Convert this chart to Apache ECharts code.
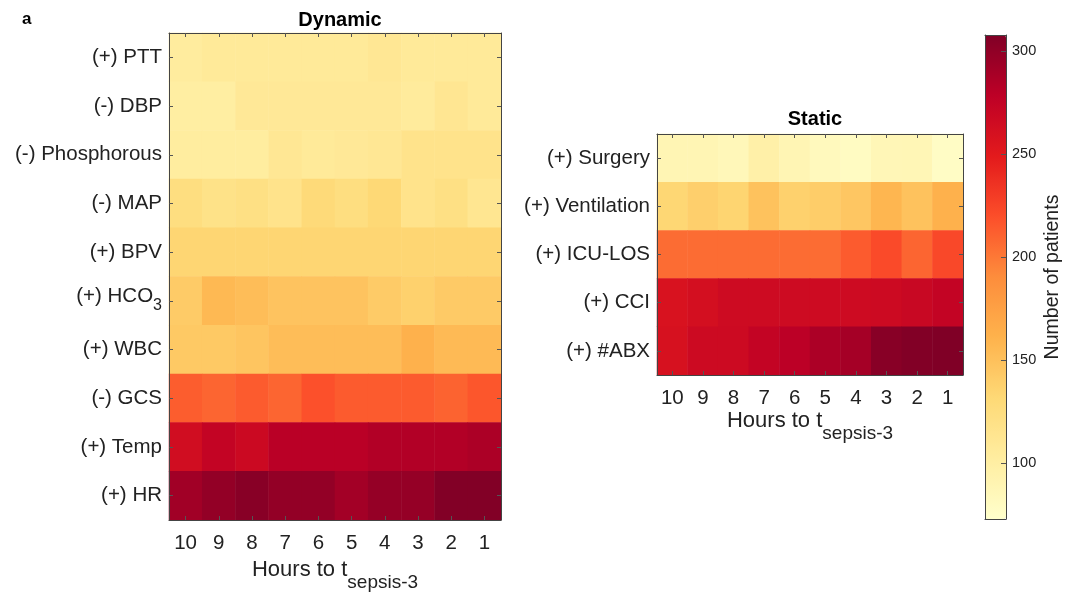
<!DOCTYPE html>
<html>
<head>
<meta charset="utf-8">
<script src="https://cdn.jsdelivr.net/npm/echarts@6/dist/echarts.min.js"></script>
<style>html,body{margin:0;padding:0;background:#fff;}#c{width:1066px;height:595px;}</style>
</head>
<body>
<div id="c"></div>
<script>
const hours = ['10','9','8','7','6','5','4','3','2','1'];
const dynamicFeatures = ['(+) PTT','(-) DBP','(-) Phosphorous','(-) MAP','(+) BPV','(+) HCO3','(+) WBC','(-) GCS','(+) Temp','(+) HR'];
const staticFeatures = ['(+) Surgery','(+) Ventilation','(+) ICU-LOS','(+) CCI','(+) #ABX'];
const colorbarTicks = [100,150,200,250,300];
const colorMin = 73, colorMax = 308;

// dynamic rows (values per hour 10..1)
const PTT   = [104,107,107,107,107,107,111,107,107,107];
const DBP   = [101,101,109,109,109,109,109,105,112,107];
const Phos  = [103,103,103,111,107,109,111,117,117,117];
const MAP   = [125,119,122,117,130,125,132,117,122,113];
const BPV   = [134,134,134,134,134,134,134,134,134,134];
const HCO3  = [142,156,153,148,148,148,142,138,143,143];
const WBC   = [144,144,147,153,153,153,153,162,155,155];
const GCS   = [213,209,214,209,219,214,214,214,210,216];
const Temp  = [264,274,268,280,280,280,284,284,284,287];
const HR    = [292,299,304,299,299,291,298,298,307,307];
// static rows
const Surgery     = [89,89,86,97,89,83,80,87,88,78];
const Ventilation = [133,139,135,149,138,141,146,158,149,162];
const ICULOS      = [206,206,206,206,206,206,214,222,209,223];
const CCI         = [258,262,266,266,266,266,266,267,270,274];
const ABX         = [259,267,267,274,279,287,290,304,307,308];

const dynamicRows = [PTT,DBP,Phos,MAP,BPV,HCO3,WBC,GCS,Temp,HR];
const staticRows = [Surgery,Ventilation,ICULOS,CCI,ABX];

function toCells(rows){
  const out=[];
  rows.forEach((r,yi)=>r.forEach((v,xi)=>out.push([xi,yi,v])));
  return out;
}

const FONT = 'Liberation Sans, Arial, Helvetica, sans-serif';
const TXT = '#222';
const tickStyle = {show:true, inside:true, length:4, alignWithLabel:true, lineStyle:{color:'#555', width:1}};
const lineStyle = {show:true, onZero:false, lineStyle:{color:'#444', width:1}};

function subFmt(v){
  if (v === '(+) HCO3') return '{m|(+) HCO}{s|3}';
  return v;
}
const richY = {
  m:{fontSize:20.5, fontFamily:FONT, color:TXT, padding:[0,0,9,0]},
  s:{fontSize:16, fontFamily:FONT, color:TXT, padding:[9,0,0,0]}
};
const richName = {
  a:{fontSize:22, fontFamily:FONT, color:TXT, padding:[0,0,13,0]},
  b:{fontSize:19, fontFamily:FONT, color:TXT, padding:[13,0,0,0]}
};

function heatAxes(gi, cats, nameGap){
  const x = [
    {type:'category', gridIndex:gi, data:hours, position:'bottom', z:10,
     axisLine:lineStyle, axisTick:tickStyle,
     axisLabel:{fontSize:20.5, fontFamily:FONT, color:TXT, margin:13},
     name:'{a|Hours to t}{b|sepsis-3}', nameLocation:'middle', nameGap:nameGap,
     nameTextStyle:{rich:richName}},
    {type:'category', gridIndex:gi, data:hours, position:'top', z:10,
     axisLine:lineStyle, axisTick:tickStyle, axisLabel:{show:false}}
  ];
  const y = [
    {type:'category', gridIndex:gi, data:cats, inverse:true, position:'left', z:10,
     axisLine:lineStyle, axisTick:tickStyle,
     axisLabel:{fontSize:20.5, fontFamily:FONT, color:TXT, margin:7, formatter:subFmt, rich:richY}},
    {type:'category', gridIndex:gi, data:cats, inverse:true, position:'right', z:10,
     axisLine:lineStyle, axisTick:tickStyle, axisLabel:{show:false}}
  ];
  return {x,y};
}

const a0 = heatAxes(0, dynamicFeatures, 34);
const a1 = heatAxes(1, staticFeatures, 34);

const chart = echarts.init(document.getElementById('c'), null, {renderer:'canvas'});
chart.setOption({
  backgroundColor:'#fff',
  animation:false,
  textStyle:{fontFamily:FONT},
  title:[
    {text:'a', left:17, top:6, textStyle:{fontSize:17, fontWeight:'bold', color:'#000', fontFamily:FONT}},
    {text:'Dynamic', left:335, top:5, textAlign:'center', textStyle:{fontSize:20, fontWeight:'bold', color:'#000', fontFamily:FONT}},
    {text:'Static', left:810, top:104, textAlign:'center', textStyle:{fontSize:20, fontWeight:'bold', color:'#000', fontFamily:FONT}}
  ],
  grid:[
    {left:169, top:33, width:332, height:487, outerBoundsMode:'none', containLabel:false},
    {left:657, top:134, width:306, height:241, outerBoundsMode:'none', containLabel:false},
    {left:985, top:35, width:21, height:484, outerBoundsMode:'none', containLabel:false}
  ],
  xAxis:[...a0.x, ...a1.x,
    {type:'value', gridIndex:2, min:0, max:1, position:'bottom', z:10,
     axisLine:lineStyle, axisTick:{show:false}, axisLabel:{show:false}, splitLine:{show:false}},
    {type:'value', gridIndex:2, min:0, max:1, position:'top', z:10,
     axisLine:lineStyle, axisTick:{show:false}, axisLabel:{show:false}, splitLine:{show:false}}
  ],
  yAxis:[...a0.y, ...a1.y,
    {type:'value', gridIndex:2, min:colorMin, max:colorMax, position:'right', z:10,
     axisLine:lineStyle,
     axisTick:{show:true, inside:true, length:5, customValues:colorbarTicks, lineStyle:{color:'#555'}},
     axisLabel:{fontSize:14.5, fontFamily:FONT, color:TXT, margin:6, align:'left', customValues:colorbarTicks},
     splitLine:{show:false},
     name:'Number of patients', nameLocation:'middle', nameGap:37, nameRotate:90,
     nameTextStyle:{fontSize:19.5, fontFamily:FONT, color:TXT}},
    {type:'value', gridIndex:2, min:colorMin, max:colorMax, position:'left', z:10,
     axisLine:lineStyle, axisTick:{show:false}, axisLabel:{show:false}, splitLine:{show:false}}
  ],
  visualMap:{
    type:'continuous', min:colorMin, max:colorMax, seriesIndex:[0,1], dimension:2,
    calculable:false, orient:'vertical', left:985, top:35, itemWidth:21, itemHeight:484,
    padding:0, showLabel:false, hoverLink:false, z:2,
    inRange:{color:['#ffffcc','#ffeda0','#fed976','#feb24c','#fd8d3c','#fc4e2a','#e31a1c','#bd0026','#800026']}
  },
  series:[
    {type:'heatmap', xAxisIndex:0, yAxisIndex:0, data:toCells(dynamicRows), itemStyle:{borderWidth:0}},
    {type:'heatmap', xAxisIndex:2, yAxisIndex:2, data:toCells(staticRows), itemStyle:{borderWidth:0}}
  ]
});
</script>
</body>
</html>
